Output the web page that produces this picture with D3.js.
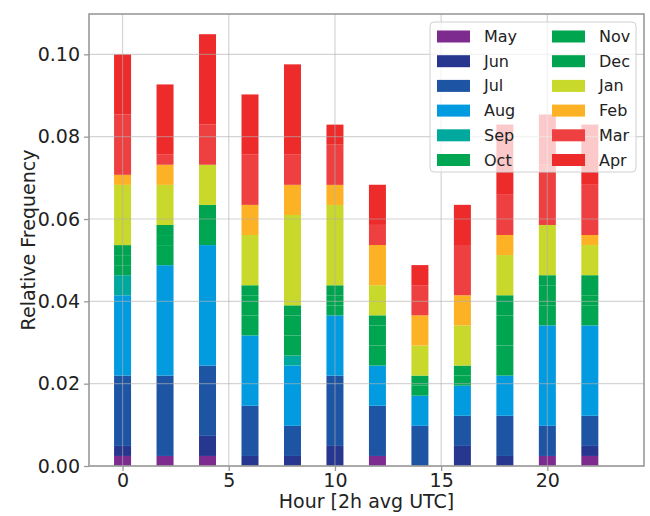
<!DOCTYPE html>
<html>
<head>
<meta charset="utf-8">
<script src="https://cdn.jsdelivr.net/npm/d3@7"></script>
<style>
  html, body { margin: 0; padding: 0; background: #fff; }
  svg { display: block; font-family: "DejaVu Sans", sans-serif; }
</style>
</head>
<body>
<svg id="chart" width="650" height="516"></svg>
<script>
// Hour bins (2-hour averages, UTC)
const hours = [0, 2, 4, 6, 8, 10, 12, 14, 16, 18, 20, 22];

// Relative frequency contributed by each month to each hour bin
const May = [0.00244, 0.00244, 0.00244, 0, 0, 0, 0.00244, 0, 0, 0, 0.00244, 0.00244];
const Jun = [0.00244, 0, 0.00488, 0.00244, 0.00244, 0.00488, 0, 0, 0.00488, 0.00244, 0, 0.00244];
const Jul = [0.01707, 0.01951, 0.01707, 0.0122, 0.00732, 0.01707, 0.0122, 0.00976, 0.00732, 0.00976, 0.00732, 0.00732];
const Aug = [0.01951, 0.02683, 0.02927, 0.01707, 0.01463, 0.01463, 0.00976, 0.00732, 0.00732, 0.00976, 0.02439, 0.02195];
const Sep = [0.00488, 0, 0, 0, 0.00244, 0, 0, 0, 0, 0, 0, 0];
const Oct = [0.00244, 0.00488, 0.00488, 0.00488, 0.00488, 0.00244, 0.00488, 0.00244, 0.00244, 0.00732, 0.00488, 0.00488];
const Nov = [0.00244, 0.00244, 0.00244, 0.00488, 0.00488, 0.00244, 0.00488, 0.00244, 0, 0.00732, 0.00488, 0.00244];
const Dec = [0.00244, 0.00244, 0.00244, 0.00244, 0.00244, 0.00244, 0.00244, 0, 0.00244, 0.00488, 0.00244, 0.00488];
const Jan = [0.01463, 0.00976, 0.00976, 0.0122, 0.02195, 0.01951, 0.00732, 0.00732, 0.00976, 0.00976, 0.0122, 0.00732];
const Feb = [0.00244, 0.00488, 0, 0.00732, 0.00732, 0.00488, 0.00976, 0.00732, 0.00732, 0.00488, 0, 0.00244];
const Mar = [0.01463, 0.00244, 0.00976, 0.0122, 0.00732, 0.00976, 0.00488, 0.00732, 0.0122, 0.00976, 0.01463, 0.0122];
const Apr = [0.01463, 0.01707, 0.02195, 0.01463, 0.02195, 0.00488, 0.00976, 0.00488, 0.00976, 0.01707, 0.0122, 0.01463];

const months = ["May", "Jun", "Jul", "Aug", "Sep", "Oct", "Nov", "Dec", "Jan", "Feb", "Mar", "Apr"];
const monthValues = [May, Jun, Jul, Aug, Sep, Oct, Nov, Dec, Jan, Feb, Mar, Apr];
const monthColors = ["#7e2b90", "#27378f", "#1e54a4", "#039be0", "#00a89e", "#00a651",
                     "#00a550", "#00a34f", "#c9d92b", "#fdb124", "#ee4040", "#ee2b2b"];

const xTicks = [0, 5, 10, 15, 20];
const yTicks = [0, 0.02, 0.04, 0.06, 0.08, 0.10];

const svg = d3.select("#chart");
const plot = { left: 89, right: 644, top: 14, bottom: 466 };

const x = d3.scaleLinear().domain([-1.58, 24.55]).range([plot.left, plot.right]);
const y = d3.scaleLinear().domain([0, 0.1098]).range([plot.bottom, plot.top]);
const barWidth = 0.8;

// Build a table: one row per hour bin, one column per month, then stack it
const table = hours.map((h, i) => {
  const row = { hour: h };
  months.forEach((m, k) => { row[m] = monthValues[k][i]; });
  return row;
});
const stacked = d3.stack().keys(months)(table);
const color = d3.scaleOrdinal().domain(months).range(monthColors);

// Stacked bars
const layers = svg.append("g").selectAll("g")
  .data(stacked)
  .join("g")
  .attr("fill", d => color(d.key));

layers.selectAll("rect")
  .data(d => d)
  .join("rect")
  .attr("x", d => x(d.data.hour - barWidth / 2))
  .attr("width", d => x(d.data.hour + barWidth / 2) - x(d.data.hour - barWidth / 2))
  .attr("y", d => y(d[1]))
  .attr("height", d => Math.max(0, y(d[0]) - y(d[1])));

// Grid lines drawn over the bars
const grid = svg.append("g").attr("stroke", "#b0b0b0").attr("stroke-opacity", 0.55).attr("stroke-width", 1.2);
grid.selectAll(".gx").data(xTicks).join("line")
  .attr("x1", d => x(d)).attr("x2", d => x(d))
  .attr("y1", plot.top).attr("y2", plot.bottom);
grid.selectAll(".gy").data(yTicks).join("line")
  .attr("x1", plot.left).attr("x2", plot.right)
  .attr("y1", d => y(d)).attr("y2", d => y(d));

// Axes
const xAxis = svg.append("g")
  .attr("transform", `translate(0,${plot.bottom})`)
  .call(d3.axisBottom(x).tickValues(xTicks).tickFormat(d3.format("d")).tickSize(5).tickPadding(3));
const yAxis = svg.append("g")
  .attr("transform", `translate(${plot.left},0)`)
  .call(d3.axisLeft(y).tickValues(yTicks).tickFormat(d3.format(".2f")).tickSize(5).tickPadding(4));

[xAxis, yAxis].forEach(ax => {
  ax.select(".domain").remove();
  ax.selectAll(".tick line").attr("stroke", "#999").attr("stroke-width", 1.3);
  ax.selectAll(".tick text")
    .attr("fill", "#222")
    .style("font-family", "DejaVu Sans, sans-serif")
    .style("font-size", "19px");
});

// Axes frame
svg.append("rect")
  .attr("x", plot.left).attr("y", plot.top)
  .attr("width", plot.right - plot.left).attr("height", plot.bottom - plot.top)
  .attr("fill", "none").attr("stroke", "#9a9a9a").attr("stroke-width", 1.6);

// Axis titles
svg.append("text")
  .attr("x", (plot.left + plot.right) / 2).attr("y", 508)
  .attr("text-anchor", "middle")
  .attr("fill", "#222")
  .style("font-size", "19px")
  .text("Hour [2h avg UTC]");
svg.append("text")
  .attr("transform", `translate(28,${(plot.top + plot.bottom) / 2}) rotate(-90)`)
  .attr("text-anchor", "middle")
  .attr("dominant-baseline", "central")
  .attr("fill", "#222")
  .style("font-size", "19px")
  .text("Relative Frequency");

// Legend: two columns of six, on a semi-transparent panel
const legend = svg.append("g");
legend.append("rect")
  .attr("x", 430).attr("y", 22).attr("width", 206).attr("height", 150)
  .attr("rx", 4).attr("ry", 4)
  .attr("fill", "#fff").attr("fill-opacity", 0.75)
  .attr("stroke", "#d0d0d0").attr("stroke-width", 1);

const items = legend.selectAll("g.item")
  .data(months)
  .join("g")
  .attr("transform", (m, i) => {
    const col = Math.floor(i / 6), row = i % 6;
    return `translate(${437 + col * 115},${36.5 + row * 24.7})`;
  });
items.append("rect")
  .attr("x", 0).attr("y", -6).attr("width", 33).attr("height", 12)
  .attr("fill", m => color(m));
items.append("text")
  .attr("x", 47).attr("y", 0)
  .attr("dominant-baseline", "central")
  .attr("fill", "#222")
  .style("font-size", "16px")
  .text(m => m);
</script>
</body>
</html>
